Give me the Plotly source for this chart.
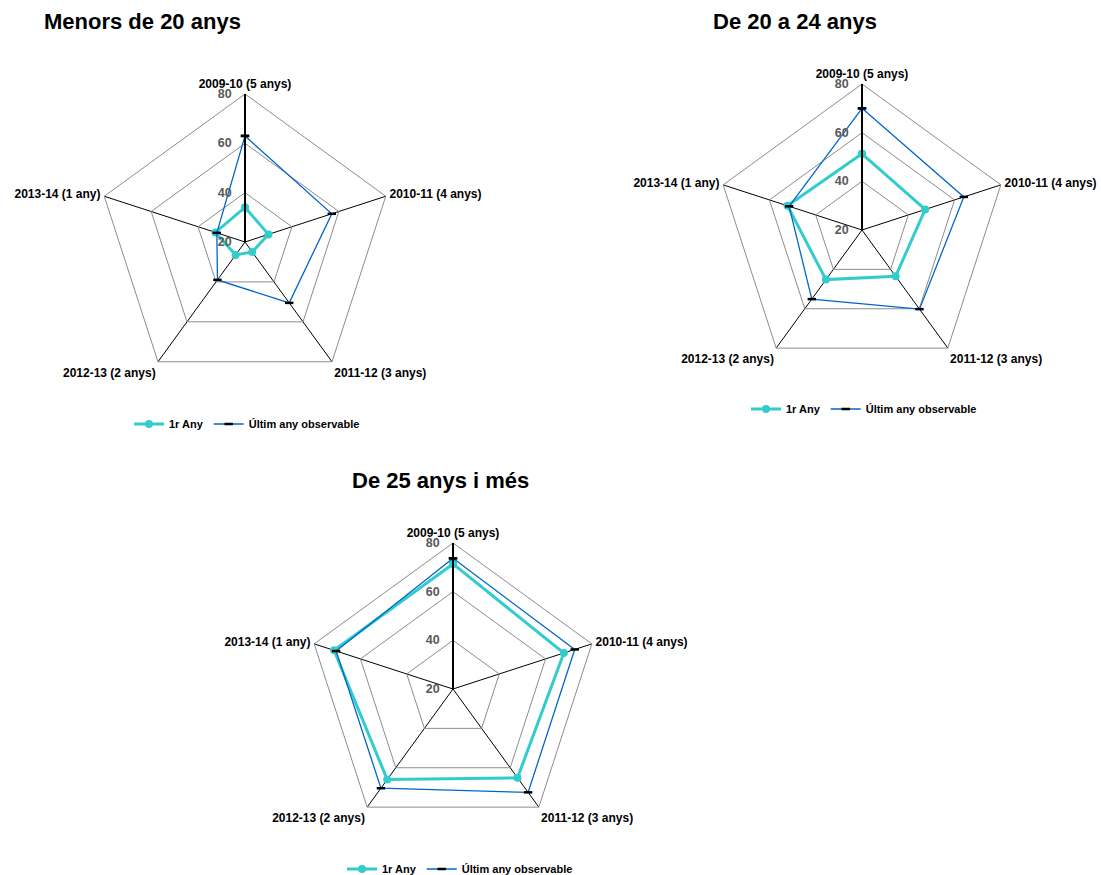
import plotly.graph_objects as go

categories = ["2009-10 (5 anys)", "2010-11 (4 anys)", "2011-12 (3 anys)",
              "2012-13 (2 anys)", "2013-14 (1 any)"]
series_names = ["1r Any", "Últim any observable"]
titles = ["Menors de 20 anys", "De 20 a 24 anys", "De 25 anys i més"]

menors20_first = [34, 30, 25, 26.5, 32.6]
menors20_last = [63, 57, 50.5, 39, 32]
de20a24_first = [51.3, 47.3, 43.5, 45.2, 52.2]
de20a24_last = [70, 64, 60.2, 55.1, 51.5]
de25mes_first = [71.4, 67.9, 65.1, 66, 71.4]
de25mes_last = [73.7, 72.6, 72.5, 70.4, 70.5]

radial_ticks = [20, 40, 60, 80]

W, H = 1101, 875
FONT = "Liberation Sans, Arial, sans-serif"
CYAN = "#33CCCC"
BLUE = "#0066CC"
GRID = "#8C8C8C"

def px(x):
    return x / W

def py(y):
    return 1 - y / H

def dom(cx, cy, r):
    return dict(x=[px(cx - r), px(cx + r)], y=[py(cy + r), py(cy - r)])

charts = [
    (menors20_first, menors20_last, dom(245, 242, 148), "polar", "legend", (247, 424), (42, 22)),
    (de20a24_first, de20a24_last, dom(862, 230, 146), "polar2", "legend2", (864, 409), (711, 22)),
    (de25mes_first, de25mes_last, dom(453, 689, 146), "polar3", "legend3", (460, 869), (350, 480)),
]

fig = go.Figure()
layout = dict(width=W, height=H, margin=dict(l=0, r=0, t=0, b=0, autoexpand=False),
              paper_bgcolor="white", plot_bgcolor="white",
              font=dict(family=FONT, color="black"), annotations=[])

closed = lambda v: list(v) + [v[0]]
theta_c = closed(categories)

for i, (first, last, d, pk, lk, lpos, tpos) in enumerate(charts):
    fig.add_trace(go.Scatterpolar(
        r=closed(first), theta=theta_c, name=series_names[0], subplot=pk, legend=lk,
        mode="lines+markers", line=dict(color=CYAN, width=3),
        marker=dict(color=CYAN, size=8, symbol="circle")))
    fig.add_trace(go.Scatterpolar(
        r=closed(last), theta=theta_c, name=series_names[1], subplot=pk, legend=lk,
        mode="lines+markers", line=dict(color=BLUE, width=1.3),
        marker=dict(symbol="line-ew", size=6, color="black",
                    line=dict(color="black", width=2.5))))
    layout[pk] = dict(
        domain=d, bgcolor="white", gridshape="linear",
        radialaxis=dict(range=[20, 80], tickvals=radial_ticks, angle=90, side="counterclockwise",
                        tickangle=90,
                        showline=True, linecolor="black", linewidth=2,
                        gridcolor=GRID, gridwidth=1,
                        ticks="outside", ticklen=8, tickcolor="rgba(0,0,0,0)",
                        tickfont=dict(family=FONT, size=12.5, color="#595959", weight="bold")),
        angularaxis=dict(rotation=90, direction="clockwise", categoryorder="array",
                         categoryarray=categories,
                         showline=True, linecolor=GRID, linewidth=1,
                         gridcolor="black", gridwidth=1,
                         ticks="outside", ticklen=1, tickcolor="rgba(0,0,0,0)",
                         tickfont=dict(family=FONT, size=12, color="black", weight="bold")),
    )
    layout[lk] = dict(orientation="h", x=px(lpos[0]), y=py(lpos[1]),
                      xanchor="center", yanchor="middle", bgcolor="rgba(0,0,0,0)",
                      font=dict(family=FONT, size=11, color="black", weight="bold"),
                      itemwidth=30)
    layout["annotations"].append(dict(
        text="<b>%s</b>" % titles[i], x=px(tpos[0]), y=py(tpos[1]),
        xref="paper", yref="paper", xanchor="left", yanchor="middle", showarrow=False,
        font=dict(family=FONT, size=22, color="black")))

fig.update_layout(**layout)
page_fix = (
    "var gd=document.getElementById('{plot_id}');"
    "document.documentElement.style.cssText='margin:0;padding:0;overflow:hidden;height:875px;width:1101px';"
    "document.body.style.cssText='margin:0;padding:0;overflow:hidden;height:875px;width:1101px';"
    "if(gd.parentNode&&gd.parentNode!==document.body){gd.parentNode.style.height='0px';}"
    "gd.style.position='fixed';gd.style.left='0px';gd.style.top='0px';"
)
fig.write_html("out.html", post_script=page_fix, config={"displayModeBar": False})
